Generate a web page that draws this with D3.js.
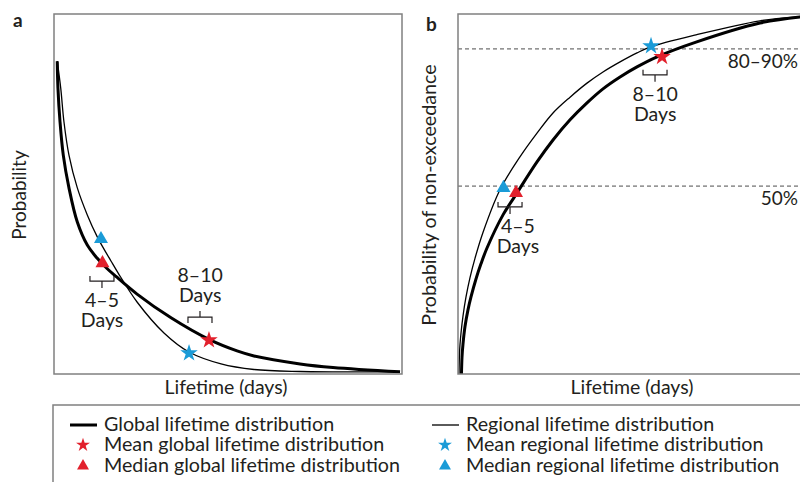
<!DOCTYPE html>
<html>
<head>
<meta charset="utf-8">
<script src="https://cdn.jsdelivr.net/npm/d3@7"></script>
<style>
  body { margin: 0; background: #fff; }
  text { font-family: Lato, "Noto Sans", sans-serif; fill: #231f20; }
</style>
</head>
<body>
<div id="chart"></div>
<script>
// schematic curves: [lifetime (arbitrary days), probability 0..1]
var globalPdf = [[0.28,0.869],[0.34,0.794],[0.52,0.700],[0.80,0.608],[1.29,0.517],[2.01,0.422],[2.87,0.358],
  [3.71,0.322],[4.57,0.293],[5.34,0.271],[7.16,0.222],[10.09,0.156],[13.36,0.096],[15.78,0.064],[17.24,0.050],
  [21.21,0.028],[24.05,0.018],[29.83,0.006]];
var regionalPdf = [[0.28,0.869],[0.58,0.794],[0.86,0.700],[1.29,0.608],[2.01,0.517],[2.87,0.442],[3.73,0.381],
  [4.31,0.347],[4.91,0.314],[5.52,0.281],[7.16,0.200],[9.48,0.114],[11.64,0.061],[14.40,0.028],[17.24,0.0125],
  [21.21,0.007],[29.83,0.006]];
var globalCdf = [[0.30,0.000],[0.345,0.047],[0.43,0.083],[0.60,0.131],[0.86,0.178],[1.12,0.214],[1.55,0.264],
  [1.98,0.306],[2.50,0.350],[3.88,0.442],[4.91,0.494],[6.81,0.589],[8.19,0.650],[9.66,0.706],[11.12,0.753],
  [12.50,0.792],[13.97,0.825],[15.43,0.853],[17.16,0.881],[20.52,0.922],[26.03,0.975],[29.48,0.992],[30,0.993]];
var regionalCdf = [[0.086,0.000],[0.13,0.057],[0.17,0.081],[0.26,0.114],[0.43,0.161],[0.69,0.214],[1.03,0.267],
  [1.47,0.322],[2.16,0.394],[3.62,0.512],[5.34,0.603],[6.81,0.669],[8.19,0.725],[9.66,0.769],[11.12,0.808],
  [12.50,0.839],[13.97,0.867],[15.43,0.892],[16.55,0.908],[20.52,0.942],[26.03,0.981],[29.48,0.992],[30,0.993]];

// markers: panel, series, statistic, x, y
var markers = [
  {panel:'a', series:'regional', stat:'median', x:4.05, y:0.375},
  {panel:'a', series:'global', stat:'median', x:4.18, y:0.308},
  {panel:'a', series:'regional', stat:'mean', x:11.64, y:0.058},
  {panel:'a', series:'global', stat:'mean', x:13.36, y:0.094},
  {panel:'b', series:'regional', stat:'median', x:3.92, y:0.517},
  {panel:'b', series:'global', stat:'median', x:5.0, y:0.503},
  {panel:'b', series:'regional', stat:'mean', x:16.64, y:0.911},
  {panel:'b', series:'global', stat:'mean', x:17.59, y:0.881}
];

var thresholds = [0.903, 0.522];
var thresholdLabels = ['80–90%', '50%'];

// day ranges marked with brackets
var brackets = [
  {panel:'a', label:'4–5', x0:3.1, x1:5.17, y:0.258, tx:4.14, side:'below'},
  {panel:'a', label:'8–10', x0:11.55, x1:13.62, y:0.158, tx:12.6, side:'above'},
  {panel:'b', label:'4–5', x0:3.45, x1:5.52, y:0.464, tx:5.17, side:'below'},
  {panel:'b', label:'8–10', x0:15.95, x1:18.02, y:0.831, tx:17.0, side:'below'}
];

var legendItems = [
  {label:'Global lifetime distribution', kind:'line', series:'global'},
  {label:'Mean global lifetime distribution', kind:'mean', series:'global'},
  {label:'Median global lifetime distribution', kind:'median', series:'global'},
  {label:'Regional lifetime distribution', kind:'line', series:'regional'},
  {label:'Mean regional lifetime distribution', kind:'mean', series:'regional'},
  {label:'Median regional lifetime distribution', kind:'median', series:'regional'}
];

var red = '#e2202c', blue = '#1a9bd7', frameColor = '#808080';
var colorOf = {global: red, regional: blue};
var widthOf = {global: 3, regional: 1.3};

var width = 800, height = 482;
var svg = d3.select('#chart').append('svg')
  .attr('width', width).attr('height', height)
  .style('display', 'block');

var plotTop = 14, plotBottom = 374;
var y = d3.scaleLinear().domain([0, 1]).range([plotBottom, plotTop]);
var xs = {
  a: d3.scaleLinear().domain([0, 30]).range([54, 402]),
  b: d3.scaleLinear().domain([0, 30]).range([458, 806])
};

var starPath = function(size){ return d3.symbol().type(d3.symbolStar).size(size)(); };
var triPath = function(size){ return d3.symbol().type(d3.symbolTriangle).size(size)(); };

var drawPanel = function(name, curves, yLabel, yLabelX, letterY){
  var x = xs[name];
  var g = svg.append('g');

  if(name == 'b'){
    thresholds.forEach(function(t, i){
      g.append('line')
        .attr('x1', x.range()[0]).attr('x2', x.range()[1])
        .attr('y1', y(t)).attr('y2', y(t))
        .attr('stroke', '#4d4d4d').attr('stroke-width', 1)
        .attr('stroke-dasharray', '4,3');
      g.append('text')
        .attr('x', 798).attr('y', y(t) + 19)
        .attr('text-anchor', 'end')
        .style('font-size', '19px')
        .text(thresholdLabels[i]);
    });
  }

  var line = d3.line()
    .x(function(d){ return x(d[0]); })
    .y(function(d){ return y(d[1]); })
    .curve(d3.curveCatmullRom.alpha(0.5));

  curves.forEach(function(c){
    g.append('path')
      .attr('d', line(c.data))
      .attr('fill', 'none')
      .attr('stroke', '#000')
      .attr('stroke-width', widthOf[c.series]);
  });

  g.append('rect')
    .attr('x', x.range()[0]).attr('y', plotTop)
    .attr('width', x.range()[1] - x.range()[0]).attr('height', plotBottom - plotTop)
    .attr('fill', 'none').attr('stroke', frameColor).attr('stroke-width', 1.5);

  brackets.filter(function(b){ return b.panel == name; }).forEach(function(b){
    var x0 = x(b.x0), x1 = x(b.x1), yy = y(b.y), xc = (x0 + x1) / 2;
    var end = b.side == 'below' ? -5 : 6;
    var stem = b.side == 'below' ? 7 : -6;
    g.append('path')
      .attr('d', 'M' + x0 + ',' + (yy + end) + 'V' + yy + 'H' + x1 + 'V' + (yy + end) +
                 'M' + xc + ',' + yy + 'V' + (yy + stem))
      .attr('fill', 'none').attr('stroke', '#231f20').attr('stroke-width', 1.2);
    var lines = [b.label, 'Days'];
    var base = b.side == 'below' ? yy + 26 : yy - 35;
    lines.forEach(function(t, i){
      g.append('text')
        .attr('x', x(b.tx)).attr('y', base + i * 20)
        .attr('text-anchor', 'middle')
        .style('font-size', '19.5px')
        .text(t);
    });
  });

  markers.filter(function(m){ return m.panel == name; }).forEach(function(m){
    g.append('path')
      .attr('d', m.stat == 'mean' ? starPath(95) : triPath(85))
      .attr('transform', 'translate(' + x(m.x) + ',' + y(m.y) + ')')
      .attr('fill', colorOf[m.series]);
  });

  g.append('text')
    .attr('x', name == 'a' ? 226 : 632).attr('y', 394)
    .attr('text-anchor', 'middle')
    .style('font-size', '19.5px')
    .text('Lifetime (days)');

  g.append('text')
    .attr('transform', 'translate(' + yLabelX + ',' + 195 + ') rotate(-90)')
    .attr('text-anchor', 'middle')
    .style('font-size', name == 'a' ? '19px' : '19.7px')
    .text(yLabel);

  g.append('text')
    .attr('x', name == 'a' ? 13 : 426).attr('y', letterY)
    .style('font-size', '19px').style('font-weight', 'bold')
    .text(name);
};

drawPanel('a', [{series:'global', data:globalPdf}, {series:'regional', data:regionalPdf}], 'Probability', 26, 27);
drawPanel('b', [{series:'global', data:globalCdf}, {series:'regional', data:regionalCdf}], 'Probability of non-exceedance', 436, 31);

// legend
svg.append('rect')
  .attr('x', 53).attr('y', 405).attr('width', 800).attr('height', 120)
  .attr('fill', 'none').attr('stroke', frameColor).attr('stroke-width', 1.5);

var colX = {global: 70, regional: 432};
var rowY = {line: 425, mean: 445, median: 466};
var leg = svg.append('g');
legendItems.forEach(function(d){
  var cx = colX[d.series], cy = rowY[d.kind];
  if(d.kind == 'line'){
    leg.append('line')
      .attr('x1', cx).attr('x2', cx + 27).attr('y1', cy).attr('y2', cy)
      .attr('stroke', '#000').attr('stroke-width', widthOf[d.series]);
  } else {
    leg.append('path')
      .attr('d', d.kind == 'mean' ? starPath(60) : triPath(62))
      .attr('transform', 'translate(' + (cx + 13) + ',' + cy + ')')
      .attr('fill', colorOf[d.series]);
  }
  leg.append('text')
    .attr('x', cx + 34).attr('y', cy + 6)
    .style('font-size', '19.7px')
    .text(d.label);
});
</script>
</body>
</html>
